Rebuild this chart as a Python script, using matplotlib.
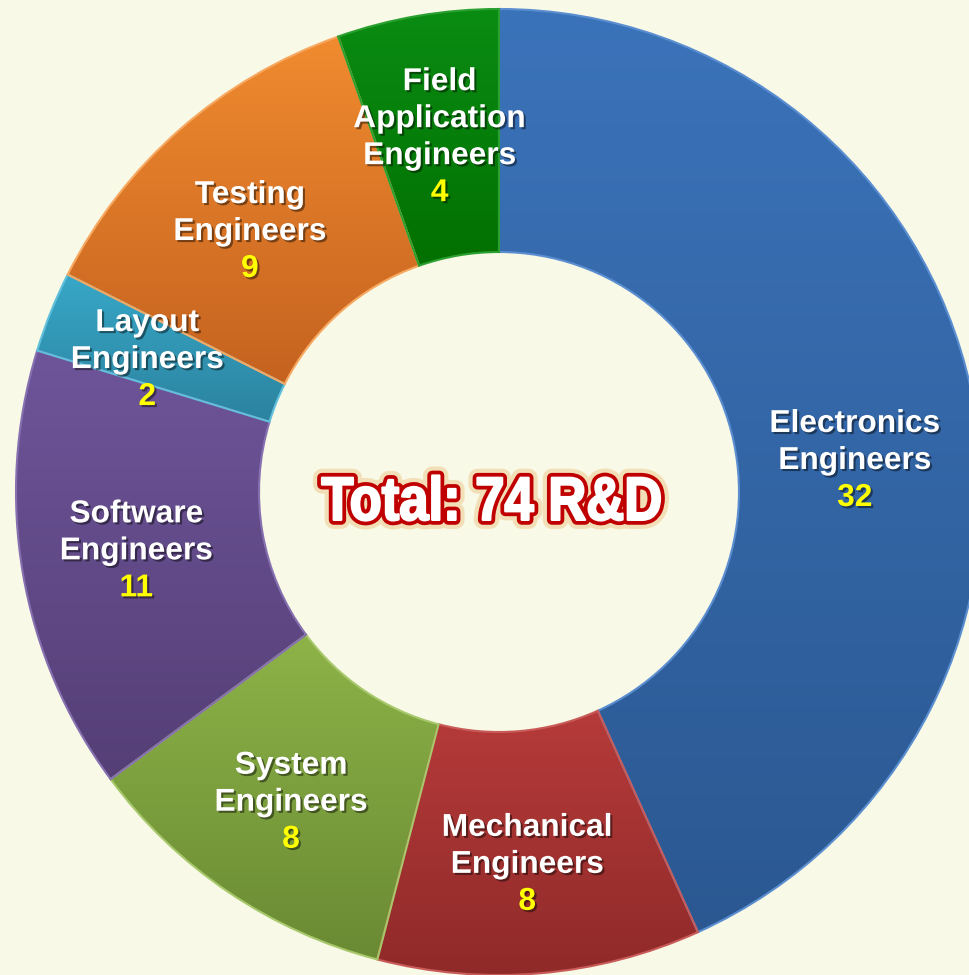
import matplotlib
matplotlib.use('Agg')
import matplotlib.pyplot as plt
import matplotlib.patheffects as pe
import numpy as np
from matplotlib.colors import to_rgb
from matplotlib.font_manager import FontProperties
from matplotlib.patches import PathPatch
from matplotlib.textpath import TextPath
from matplotlib.transforms import Affine2D

# data
labels = ['Electronics\nEngineers', 'Mechanical\nEngineers', 'System\nEngineers',
          'Software\nEngineers', 'Layout\nEngineers', 'Testing\nEngineers',
          'Field\nApplication\nEngineers']
counts = [32, 8, 8, 11, 2, 9, 4]
title = 'Total: %d R&D' % sum(counts)

# style
top_colors = ['#3B73BA', '#B63B3A', '#8DB348', '#6E559A', '#38A7C8', '#F08B2F', '#0A8C12']
bottom_colors = ['#2B5891', '#8F2A29', '#6A8A33', '#553F76', '#2B839F', '#C5621F', '#027002']
edge_colors = ['#5A8ED0', '#C85A58', '#A6C86A', '#8670B0', '#60C0DC', '#F7A860', '#2AA030']
# label placement: nudge off the mid angle (degrees) and radius as share of the outer radius
label_shift = [-6.7, -0.5, 0, -0.9, 0.9, 2.1, -0.3]
label_rad = [0.74, 0.768, 0.769, 0.76, 0.78, 0.75, 0.75]
bg = '#F8F9E6'

W, H = 969, 975
cx, cy = 499, H - 492
r_out, r_in = 483, 240

fig = plt.figure(figsize=(W / 100, H / 100), dpi=100, facecolor=bg)
ax = fig.add_axes([0, 0, 1, 1])
ax.set_facecolor(bg)

wedges, _ = ax.pie(counts, startangle=90, counterclock=False, center=(cx, cy),
                   radius=r_out, colors=top_colors,
                   wedgeprops=dict(width=r_out - r_in, linewidth=1.5))

# vertical gradient inside every wedge
t = np.linspace(0, 1, 256)[:, None, None]
for w, c0, c1, ec in zip(wedges, top_colors, bottom_colors, edge_colors):
    ext = w.get_path().get_extents()
    img = (1 - t) * np.array(to_rgb(c0)) + t * np.array(to_rgb(c1))
    im = ax.imshow(img, extent=(ext.x0, ext.x1, ext.y0, ext.y1), origin='upper',
                   aspect='auto', interpolation='bilinear', zorder=2)
    im.set_clip_path(w)
    w.set_facecolor('none')
    w.set_edgecolor(ec)
    w.set_zorder(3)

# labels
shadow = [pe.withSimplePatchShadow(offset=(1.5, -1.5), shadow_rgbFace='k', alpha=0.45)]
total = float(sum(counts))
cum = 0
fs = 22.8
step = 37
for lab, v, sh, rf in zip(labels, counts, label_shift, label_rad):
    ang = np.deg2rad(90 - 360 * (cum + v / 2) / total + sh)
    cum += v
    x = cx + rf * r_out * np.cos(ang)
    y = cy + rf * r_out * np.sin(ang)
    lines = lab.split('\n') + [str(v)]
    n = len(lines)
    for k, s in enumerate(lines):
        yk = y + ((n - 1) / 2 - k) * step - 11
        col = '#FFFF00' if k == n - 1 else 'white'
        ax.text(x, yk, s, ha='center', va='baseline', color=col, fontsize=fs,
                fontweight='bold', family='Liberation Sans', zorder=5,
                path_effects=shadow)

# centre title, condensed heavy lettering with red outline
tp = TextPath((0, 0), title, size=100,
              prop=FontProperties(family='Liberation Sans', weight='bold'))
bb = tp.get_extents()
tw, th = 338, 45
tc_x, tc_y = 491, H - 498
tr = (Affine2D().translate(-(bb.x0 + bb.x1) / 2, -(bb.y0 + bb.y1) / 2)
      .scale(tw / bb.width, th / bb.height).translate(tc_x, tc_y))
path = tr.transform_path(tp)
ax.add_patch(PathPatch(path, facecolor='none', edgecolor='#E9B060', lw=13,
                       alpha=0.35, joinstyle='round', zorder=6))
ax.add_patch(PathPatch(path, facecolor='#C00000', edgecolor='#C00000', lw=7,
                       joinstyle='round', zorder=7))
ax.add_patch(PathPatch(path, facecolor='white', edgecolor='white', lw=1.6,
                       joinstyle='round', zorder=8))

ax.set_xlim(0, W)
ax.set_ylim(0, H)
ax.set_aspect('auto')
ax.axis('off')

fig.savefig('out.png', dpi=100, facecolor=bg)
